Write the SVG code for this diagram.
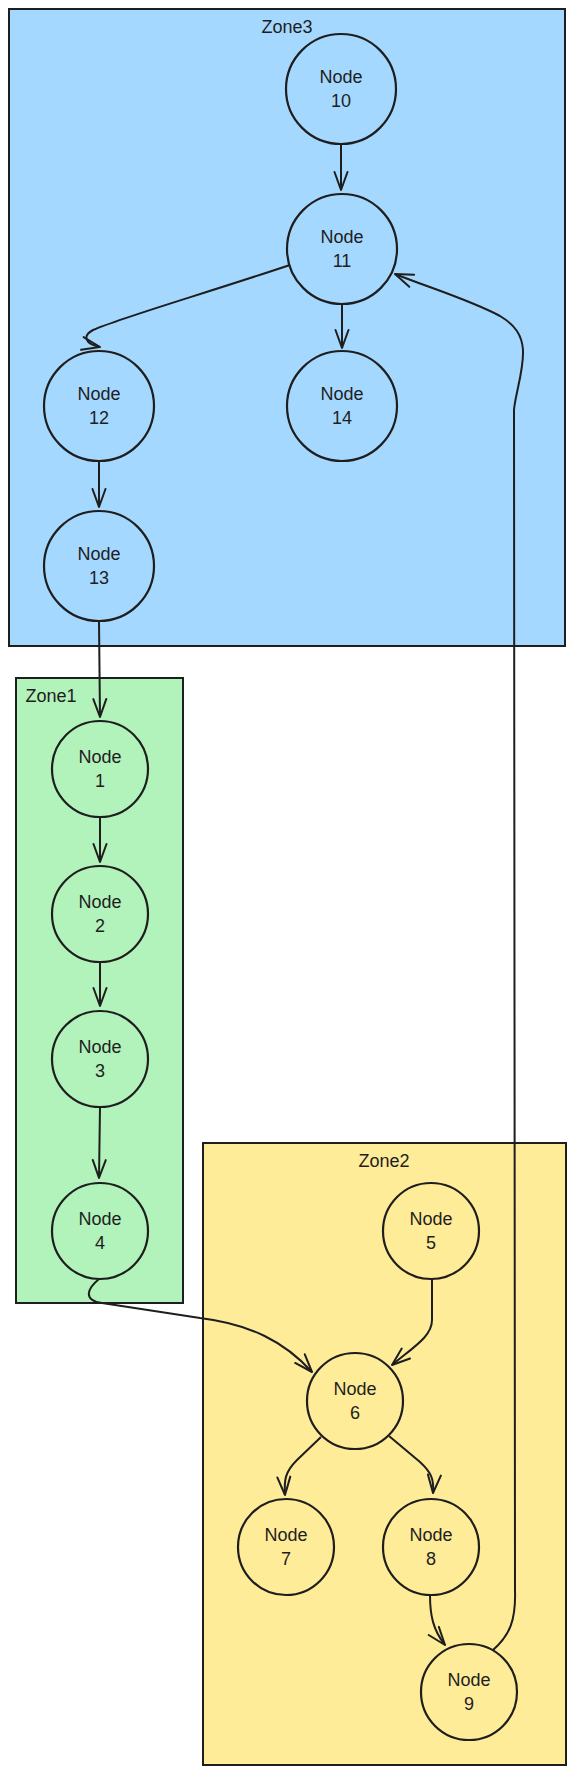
<svg xmlns="http://www.w3.org/2000/svg" width="575" height="1775" viewBox="0 0 575 1775">
<style>
.zone{stroke:#1e1e1e;stroke-width:2}
.z3{fill:#a5d8ff}.z1{fill:#b2f2bb}.z2{fill:#ffec99}
.node{stroke:#1e1e1e;stroke-width:2.2}
.lbl{font-family:"Liberation Sans","DejaVu Sans",sans-serif;font-size:18px;fill:#1e1e1e;text-anchor:middle}
.ztxt{font-family:"Liberation Sans","DejaVu Sans",sans-serif;font-size:18px;fill:#1e1e1e;text-anchor:middle}
.edge{fill:none;stroke:#1e1e1e;stroke-width:2;marker-end:url(#arr)}
</style>
<defs>
<marker id="arr" markerUnits="userSpaceOnUse" markerWidth="20" markerHeight="20" refX="0" refY="0" orient="auto" overflow="visible">
<path d="M-18,-6.5 L0,0 L-18,6.5" fill="none" stroke="#1e1e1e" stroke-width="2" stroke-linecap="round" stroke-linejoin="round"/>
</marker>
</defs>

<g id="zone3"><rect class="zone z3" x="9" y="9" width="556" height="637"/><text class="ztxt" x="287" y="33">Zone3</text></g>
<g id="zone1"><rect class="zone z1" x="16" y="678" width="167" height="625"/><text class="ztxt" x="51" y="702">Zone1</text></g>
<g id="zone2"><rect class="zone z2" x="203" y="1143" width="363" height="622"/><text class="ztxt" x="384" y="1167">Zone2</text></g>

<g id="connectors">
<path class="edge" d="M341,144 L341,190"/>
<path class="edge" d="M342,304 L342,348"/>
<path class="edge" d="M290,265 C200,295 120,318 93,330 C82,336 85,344 100,347"/>
<path class="edge" d="M99,461 L99,507"/>
<path class="edge" d="M99,621 L100,717"/>
<path class="edge" d="M100,817 L100,862"/>
<path class="edge" d="M100,962 L100,1006"/>
<path class="edge" d="M100,1107 L99,1178"/>
<path class="edge" d="M99,1279 C88,1288 82,1300 102,1303 L200,1318 C250,1324 285,1342 312,1372"/>
<path class="edge" d="M432,1279 L432,1320 C432,1336 415,1346 392,1365"/>
<path class="edge" d="M321,1437 L297,1460 C285,1472 284,1480 285,1495"/>
<path class="edge" d="M389,1436 L420,1462 C432,1473 434,1480 433,1493"/>
<path class="edge" d="M430,1595 C430,1615 433,1630 445,1645"/>
<path class="edge" d="M493,1650 C510,1635 516,1620 515,1590 L514,410 C515,395 524,370 523,350 C522,335 515,325 500,316 C470,300 430,288 395,274"/>
</g>

<g id="node10"><circle class="node z3" cx="341" cy="89" r="55"/><text class="lbl" x="341" y="83">Node</text><text class="lbl" x="341" y="107">10</text></g>
<g id="node11"><circle class="node z3" cx="342" cy="249" r="55"/><text class="lbl" x="342" y="243">Node</text><text class="lbl" x="342" y="267">11</text></g>
<g id="node12"><circle class="node z3" cx="99" cy="406" r="55"/><text class="lbl" x="99" y="400">Node</text><text class="lbl" x="99" y="424">12</text></g>
<g id="node14"><circle class="node z3" cx="342" cy="406" r="55"/><text class="lbl" x="342" y="400">Node</text><text class="lbl" x="342" y="424">14</text></g>
<g id="node13"><circle class="node z3" cx="99" cy="566" r="55"/><text class="lbl" x="99" y="560">Node</text><text class="lbl" x="99" y="584">13</text></g>

<g id="node1"><circle class="node z1" cx="100" cy="769" r="48"/><text class="lbl" x="100" y="763">Node</text><text class="lbl" x="100" y="787">1</text></g>
<g id="node2"><circle class="node z1" cx="100" cy="914" r="48"/><text class="lbl" x="100" y="908">Node</text><text class="lbl" x="100" y="932">2</text></g>
<g id="node3"><circle class="node z1" cx="100" cy="1059" r="48"/><text class="lbl" x="100" y="1053">Node</text><text class="lbl" x="100" y="1077">3</text></g>
<g id="node4"><circle class="node z1" cx="100" cy="1231" r="48"/><text class="lbl" x="100" y="1225">Node</text><text class="lbl" x="100" y="1249">4</text></g>

<g id="node5"><circle class="node z2" cx="431" cy="1231" r="48"/><text class="lbl" x="431" y="1225">Node</text><text class="lbl" x="431" y="1249">5</text></g>
<g id="node6"><circle class="node z2" cx="355" cy="1401" r="48"/><text class="lbl" x="355" y="1395">Node</text><text class="lbl" x="355" y="1419">6</text></g>
<g id="node7"><circle class="node z2" cx="286" cy="1547" r="48"/><text class="lbl" x="286" y="1541">Node</text><text class="lbl" x="286" y="1565">7</text></g>
<g id="node8"><circle class="node z2" cx="431" cy="1547" r="48"/><text class="lbl" x="431" y="1541">Node</text><text class="lbl" x="431" y="1565">8</text></g>
<g id="node9"><circle class="node z2" cx="469" cy="1692" r="48"/><text class="lbl" x="469" y="1686">Node</text><text class="lbl" x="469" y="1710">9</text></g>
</svg>
